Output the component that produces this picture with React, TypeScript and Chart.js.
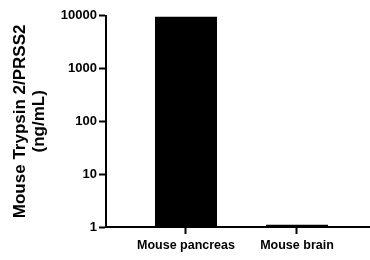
import React, { useEffect, useRef } from "react";
import { Chart, registerables } from "chart.js";

Chart.register(...registerables);

const categories = ["Mouse pancreas", "Mouse brain"];
const values = [9600, 1.1];
const yTicks = [1, 10, 100, 1000, 10000];
const yTitle = ["Mouse Trypsin 2/PRSS2", "(ng/mL)"];

const FONT = "Arial, 'Liberation Sans', Helvetica, sans-serif";

export default function App() {
  const ref = useRef<HTMLCanvasElement | null>(null);

  useEffect(() => {
    const canvas = ref.current;
    if (!canvas) return;
    const chart = new Chart(canvas, {
      type: "bar",
      data: {
        datasets: [
          {
            data: values.map((v, i) => ({ x: i, y: v })),
            backgroundColor: "#000000",
            borderWidth: 0,
            barPercentage: 0.5586,
            categoryPercentage: 1,
          },
        ],
      },
      options: {
        animation: false,
        responsive: false,
        devicePixelRatio: 1,
        layout: { padding: { left: 0, right: 0, top: 15.7, bottom: 0 } },
        plugins: {
          legend: { display: false },
          tooltip: { enabled: false },
          title: { display: false },
        },
        scales: {
          x: {
            type: "linear",
            min: -0.7207,
            max: 1.6577,
            offset: false,
            afterBuildTicks: (scale: any) => {
              scale.ticks = categories.map((_, i) => ({ value: i }));
            },
            afterFit: (scale: any) => {
              scale.height = 33;
            },
            ticks: {
              autoSkip: false,
              maxRotation: 0,
              padding: 4,
              color: "#000000",
              font: { family: FONT, size: 12.5, weight: "bold" },
              callback: (v: any) => categories[Math.round(Number(v))] ?? "",
            },
            grid: {
              display: true,
              offset: false,
              drawOnChartArea: false,
              drawTicks: true,
              tickLength: 7,
              tickWidth: 2,
              tickColor: "#000000",
              color: "#000000",
            },
            border: { display: true, color: "#000000", width: 2 },
          },
          y: {
            type: "logarithmic",
            min: 1,
            max: 10000,
            afterBuildTicks: (scale: any) => {
              scale.ticks = yTicks.map((v) => ({ value: v }));
            },
            afterFit: (scale: any) => {
              scale.width = 106;
            },
            ticks: {
              autoSkip: false,
              padding: 2,
              color: "#000000",
              font: { family: FONT, size: 13, weight: "bold" },
              callback: (v: any) => String(v),
            },
            grid: {
              display: true,
              drawOnChartArea: false,
              drawTicks: true,
              tickLength: 7,
              tickWidth: 2,
              tickColor: "#000000",
              color: "#000000",
            },
            border: { display: true, color: "#000000", width: 2 },
            title: {
              display: true,
              text: yTitle,
              color: "#000000",
              font: { family: FONT, size: 17, weight: "bold", lineHeight: "19px" },
              padding: { top: 11, bottom: 0 },
            },
          },
        },
      },
    } as any);
    return () => chart.destroy();
  }, []);

  return (
    <div style={{ position: "absolute", left: 0, top: 0, width: 370, height: 260, background: "#ffffff" }}>
      <canvas ref={ref} width={370} height={260} />
    </div>
  );
}
